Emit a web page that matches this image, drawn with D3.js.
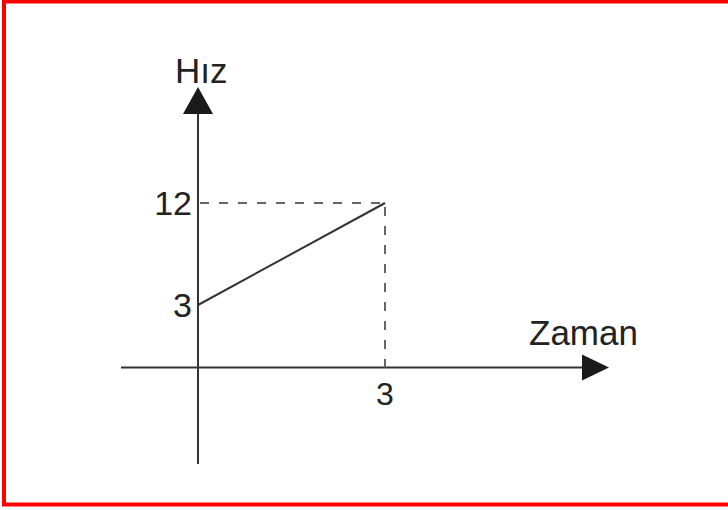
<!DOCTYPE html>
<html>
<head>
<meta charset="utf-8">
<title>Hız - Zaman</title>
<script src="https://d3js.org/d3.v7.min.js"></script>
<style>
  body { margin: 0; background: #fff; }
  svg text { font-family: "Liberation Sans", Arial, sans-serif; fill: #222; }
</style>
</head>
<body>
<svg id="chart" width="728" height="510"></svg>
<script>
// data
var times = [0, 3];
var speeds = [3, 12];
var xTicks = [3];
var yTicks = [3, 12];
var xLabel = "Zaman";
var yLabel = "Hız";

var svg = d3.select("#chart");

// red frame (open on the right)
svg.append("path")
  .attr("d", "M728,1.5H4V504.5H728")
  .attr("fill", "none")
  .attr("stroke", "#ff0000")
  .attr("stroke-width", 4);

// scales (sketch is not to scale, so the y scale is piecewise)
var x = d3.scaleLinear().domain([0, 3]).range([198, 385]);
var y = d3.scaleLinear().domain([0, 3, 12]).range([367.5, 305, 203]);

var ink = "#333";
var g = svg.append("g");

// axes
g.append("line")
  .attr("x1", 121).attr("x2", 585)
  .attr("y1", y(0)).attr("y2", y(0))
  .attr("stroke", ink).attr("stroke-width", 2);
g.append("line")
  .attr("x1", x(0)).attr("x2", x(0))
  .attr("y1", 464).attr("y2", 110)
  .attr("stroke", ink).attr("stroke-width", 2);

// arrow heads
g.append("path")
  .attr("d", "M" + x(0) + ",87L" + (x(0) - 15) + ",114L" + (x(0) + 15) + ",114Z")
  .attr("fill", "#1a1a1a");
g.append("path")
  .attr("d", "M609," + y(0) + "L582," + (y(0) - 13) + "L582," + (y(0) + 13) + "Z")
  .attr("fill", "#1a1a1a");

// dashed guides
var last = times.length - 1;
g.append("line")
  .attr("x1", x(0) + 2).attr("x2", x(times[last]))
  .attr("y1", y(speeds[last])).attr("y2", y(speeds[last]))
  .attr("stroke", "#666").attr("stroke-width", 2)
  .attr("stroke-dasharray", "9,10");
g.append("line")
  .attr("x1", x(times[last])).attr("x2", x(times[last]))
  .attr("y1", y(speeds[last]) + 4).attr("y2", y(0))
  .attr("stroke", "#666").attr("stroke-width", 2)
  .attr("stroke-dasharray", "9,10");

// the line
var line = d3.line()
  .x(function(d, i) { return x(times[i]); })
  .y(function(d) { return y(d); });
g.append("path")
  .datum(speeds)
  .attr("d", line)
  .attr("fill", "none")
  .attr("stroke", ink)
  .attr("stroke-width", 2);

// tick labels
g.selectAll(".ytick").data(yTicks).enter()
  .append("text")
  .attr("class", "ytick")
  .attr("x", x(0) - 6)
  .attr("y", function(d) { return y(d) + 12; })
  .attr("text-anchor", "end")
  .style("font-size", "34px")
  .text(function(d) { return d; });

g.selectAll(".xtick").data(xTicks).enter()
  .append("text")
  .attr("class", "xtick")
  .attr("x", function(d) { return x(d); })
  .attr("y", 405)
  .attr("text-anchor", "middle")
  .style("font-size", "32px")
  .text(function(d) { return d; });

// axis titles
g.append("text")
  .attr("x", 175).attr("y", 83)
  .style("font-size", "35px")
  .text(yLabel);
g.append("text")
  .attr("x", 529).attr("y", 345)
  .style("font-size", "35px")
  .text(xLabel);
</script>
</body>
</html>
